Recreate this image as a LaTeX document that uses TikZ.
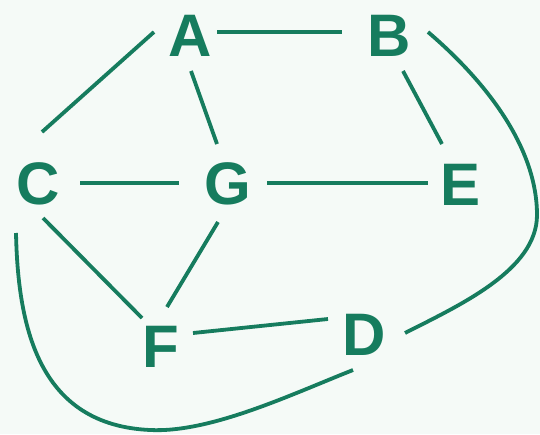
\documentclass[tikz,border=0pt]{standalone}
\usepackage{fontspec}
\setmainfont{Liberation Sans}
\definecolor{gr}{RGB}{22,124,94}
\definecolor{bg}{RGB}{245,250,247}
\begin{document}
\begin{tikzpicture}[x=1pt,y=-1pt,
  lbl/.style={text=gr,inner sep=0pt,font=\fontsize{60}{60}\selectfont\bfseries},
  edge/.style={draw=gr,line width=3.8pt}]
\fill[bg] (0,0) rectangle (540,434);
\useasboundingbox (0,0) rectangle (540,434);
\node[lbl] (A) at (190,36) {A};
\node[lbl] (B) at (389,36) {B};
\node[lbl] (C) at (38,184) {C};
\node[lbl] (G) at (228,184) {G};
\node[lbl] (E) at (461,185) {E};
\node[lbl] (F) at (161,347) {F};
\node[lbl] (D) at (364,335) {D};
\draw[edge] ([shift={(27,-4)}]A.center) -- ([shift={(-47,-4)}]B.center);
\draw[edge] ([shift={(-36,-4)}]A.center) -- ([shift={(4,-52)}]C.center);
\draw[edge] ([shift={(1,35)}]A.center) -- ([shift={(-11,-40)}]G.center);
\draw[edge] ([shift={(14,35)}]B.center) -- ([shift={(-19,-41)}]E.center);
\draw[edge] ([shift={(42,-1)}]C.center) -- ([shift={(-49,-1)}]G.center);
\draw[edge] ([shift={(39,-1)}]G.center) -- ([shift={(-33,-2)}]E.center);
\draw[edge] ([shift={(5,34)}]C.center) -- ([shift={(-19,-29)}]F.center);
\draw[edge] ([shift={(-10,38)}]G.center) -- ([shift={(6,-40)}]F.center);
\draw[edge] ([shift={(32,-14)}]F.center) -- ([shift={(-36,-16)}]D.center);
\draw[edge] ([shift={(39,-4)}]B.center) .. controls +(62,53) and +(0,-65) .. ([shift={(148,179)}]B.center)
   .. controls +(0,55) and +(55,-28) .. ([shift={(41,-2)}]D.center);
\draw[edge] ([shift={(-22,49)}]C.center) .. controls +(2,97) and +(-110,-5) .. ([shift={(112,246)}]C.center)
   .. controls +(60,3) and +(-63,25) .. ([shift={(-11,35)}]D.center);
\end{tikzpicture}
\end{document}
